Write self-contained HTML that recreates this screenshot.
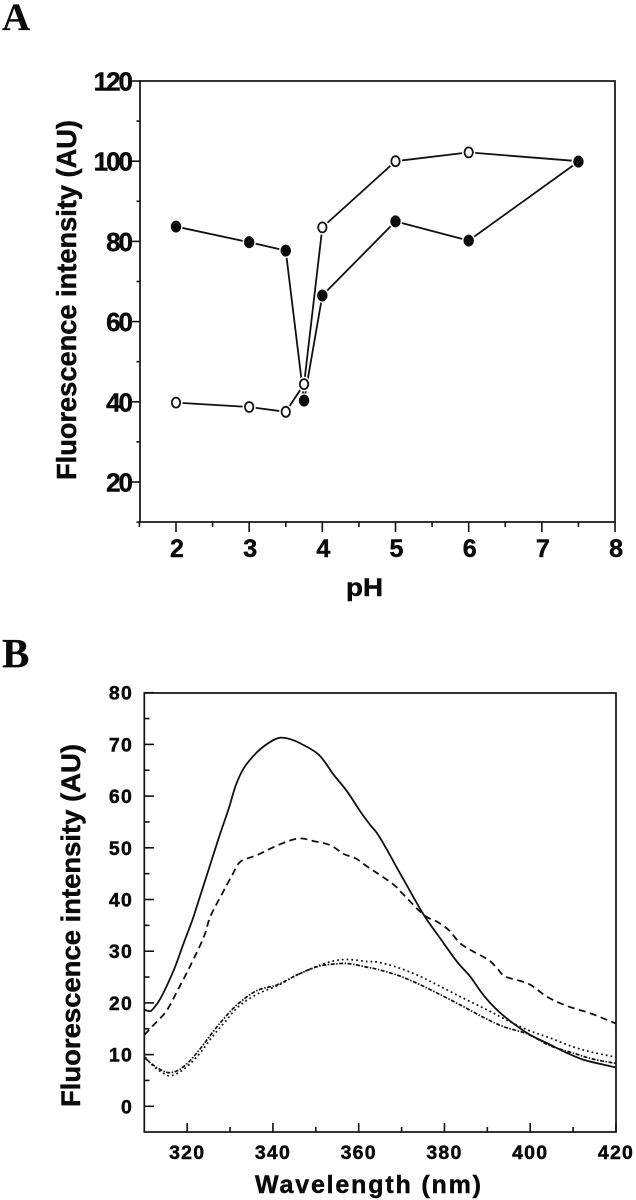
<!DOCTYPE html>
<html>
<head>
<meta charset="utf-8">
<title>Fluorescence intensity charts</title>
<style>
html,body{margin:0;padding:0;background:#fff;}
svg{display:block;}
text{font-family:"Liberation Sans",sans-serif;font-weight:bold;fill:#0a0a0a;stroke:#0a0a0a;stroke-width:0.45;}
text.serif{font-family:"Liberation Serif",serif;stroke-width:0.2;}
</style>
</head>
<body>
<svg id="fig" xmlns="http://www.w3.org/2000/svg" width="636" height="1200" viewBox="0 0 636 1200">
  <rect x="0" y="0" width="636" height="1200" fill="#fff"/>
  <text class="serif" x="2" y="30" font-size="39">A</text>
  <text class="serif" x="2" y="667" font-size="41">B</text>
  <rect x="140" y="81" width="475" height="441" fill="none" stroke="#111" stroke-width="1.7"/>
  <rect x="144.3" y="693" width="471.7" height="439" fill="none" stroke="#111" stroke-width="1.7"/>
  <g id="panelA"></g>
  <g id="panelB"></g>
  <text transform="translate(76,480) rotate(-90)" font-size="28" textLength="360" lengthAdjust="spacingAndGlyphs">Fluorescence intensity (AU)</text>
  <text x="346" y="596" font-size="25" textLength="37" lengthAdjust="spacingAndGlyphs">pH</text>
  <text transform="translate(80,1107) rotate(-90)" font-size="27" textLength="363" lengthAdjust="spacingAndGlyphs">Fluorescence intensity (AU)</text>
  <text x="255" y="1193" font-size="25" textLength="226" lengthAdjust="spacing">Wavelength (nm)</text>
</svg>
<script>
// Panel A data
var phValues = [2, 3, 3.5, 3.75, 4, 5, 6, 7.5];
var filledIntensity = [83.7, 79.8, 77.7, 40.3, 66.5, 85, 80.2, 99.9];
var openIntensity = [39.8, 38.7, 37.5, 44.4, 83.5, 100, 102.2, 100];
var phTickLabels = [2, 3, 4, 5, 6, 7, 8];
var phMinorTicks = [1.5, 2.5, 3.5, 4.5, 5.5, 6.5, 7.5];
var intensityTickLabelsA = [20, 40, 60, 80, 100, 120];
var intensityMinorTicksA = [10, 30, 50, 70, 90, 110];

// Panel B data
var solidWavelength = [310, 311.2, 312, 313.8, 316.9, 319.2, 321.2, 322.3, 324.7, 327.4, 329.7, 331.3, 333.2, 336.3, 339.4, 341.7, 344.1, 346.4, 350.7, 354.2, 357.3, 360.4, 362.7, 365, 370.5, 375.2, 379, 382.9, 386, 389.1, 392.3, 396.1, 400, 404.7, 408.6, 412.4, 416.3, 420];
var solidIntensity = [18.7, 18.4, 18.8, 20.9, 26.4, 31.6, 36, 38.8, 45, 52, 57.6, 62, 65.4, 68.5, 70.5, 71.3, 71, 70.2, 68, 64.1, 60.9, 57, 54.4, 51.9, 43.8, 37, 32.5, 28, 25.1, 21.5, 18.6, 16, 13.8, 11.9, 10.3, 9, 8.2, 7.5];
var dashedWavelength = [310, 312.6, 315.3, 318, 320.8, 323.9, 325.4, 328.2, 330.5, 332.4, 336.3, 341.7, 346, 349.5, 353.4, 356.5, 359.2, 362.3, 367.8, 370.5, 375.2, 378.3, 381, 383.7, 386.8, 390.3, 392.3, 394.2, 399.6, 403.9, 408.6, 414, 420];
var dashedIntensity = [13.8, 16.1, 18.6, 22.8, 27.3, 32.8, 36.7, 41.2, 44.7, 47.3, 48.6, 50.7, 51.8, 51.3, 50.5, 48.8, 48, 46.2, 43.1, 40.9, 37, 35.7, 34.1, 31.5, 29.9, 28.3, 26.7, 25.1, 23.7, 21.2, 19.4, 18, 16];
var lowWavelength = [310.2, 312.2, 314.2, 315.9, 318, 320.4, 323.1, 326.2, 328.9, 332, 336.3, 341, 345.6, 350.3, 354.1, 357.6, 362, 364.3, 368.9, 373.6, 378.3, 383.7, 389.1, 393.8, 399.3, 404.7, 410, 414.8, 420];
var dottedIntensity = [9.5, 7.7, 6.5, 5.9, 6.5, 8, 10.4, 13.8, 16.4, 19.3, 21.7, 23.3, 25.4, 27.1, 28.1, 28.4, 28, 27.9, 26.9, 25.4, 23.5, 21.2, 19, 17, 14.8, 13.2, 11.5, 10.4, 9.5];
var dashDotIntensity = [9.3, 7.9, 6.9, 6.5, 7, 8.6, 11.2, 14.6, 17.3, 19.9, 22.4, 23.5, 25.4, 27, 27.5, 27.6, 26.9, 26.5, 25.4, 23.8, 21.9, 19.6, 17.2, 15.4, 14, 11.7, 10.3, 9.1, 8.3];
var wavelengthTickLabels = [320, 340, 360, 380, 400, 420];
var wavelengthMinorTicks = [330, 350, 370, 390, 410];
var intensityTickLabelsB = [0, 10, 20, 30, 40, 50, 60, 70, 80];
var intensityMinorTicksB = [5, 15, 25, 35, 45, 55, 65, 75];

var NS = 'http://www.w3.org/2000/svg';
var panelA = document.getElementById('panelA');
var panelB = document.getElementById('panelB');

function xA(v) { return 176 + (v - 2) * 73.17; }
function yA(v) { return 482 - (v - 20) * 4.01; }
function xB(v) { return 144.3 + (v - 310) * 4.288; }
function yB(v) { return 1106.3 - v * 5.17; }

function make(parent, tag, props) {
  var el = document.createElementNS(NS, tag);
  for (var k in props) { el.setAttribute(k, props[k]); }
  parent.appendChild(el);
  return el;
}
function tick(parent, x1, y1, x2, y2, name) {
  var el = make(parent, 'line', { x1: x1, y1: y1, x2: x2, y2: y2, stroke: '#111', 'stroke-width': 1.6 });
  
  
}
function label(parent, x, y, str, size, spacing, anchor, name) {
  var el = make(parent, 'text', { x: x, y: y, 'font-size': size, 'letter-spacing': spacing, 'text-anchor': anchor });
  el.textContent = str;
  
  
}
// Straight segments between points (panel A)
function pathFrom(xs, ys, sx, sy) {
  var d = '';
  for (var i = 0; i < xs.length; i++) {
    d += (i ? 'L' : 'M') + sx(xs[i]).toFixed(2) + ' ' + sy(ys[i]).toFixed(2);
  }
  return d;
}
// Catmull-Rom smoothing through the points (panel B)
function smoothFrom(xs, ys, sx, sy) {
  var px = xs.map(sx);
  var py = ys.map(sy);
  var d = 'M' + px[0].toFixed(2) + ' ' + py[0].toFixed(2);
  for (var i = 0; i < px.length - 1; i++) {
    var a = Math.max(i - 1, 0);
    var b = Math.min(i + 2, px.length - 1);
    d += 'C' + (px[i] + (px[i + 1] - px[a]) / 6).toFixed(2) + ' ' + (py[i] + (py[i + 1] - py[a]) / 6).toFixed(2) +
         ' ' + (px[i + 1] - (px[b] - px[i]) / 6).toFixed(2) + ' ' + (py[i + 1] - (py[b] - py[i]) / 6).toFixed(2) +
         ' ' + px[i + 1].toFixed(2) + ' ' + py[i + 1].toFixed(2);
  }
  return d;
}
function curve(parent, d, width, dash, name) {
  var el = make(parent, 'path', { d: d, fill: 'none', stroke: '#111', 'stroke-width': width, 'stroke-linejoin': 'round' });
  if (dash) { el.setAttribute('stroke-dasharray', dash); }
  
  
}
function marker(parent, x, y, filled, name) {
  var halo = make(parent, 'ellipse', { cx: x, cy: y, rx: 6.6, ry: 7.4, fill: '#fff' });
  
  
  var el = make(parent, 'ellipse', { cx: x, cy: y, rx: filled ? 5 : 4.2, ry: filled ? 5.8 : 5, fill: filled ? '#0a0a0a' : '#fff', stroke: '#111', 'stroke-width': filled ? 0.5 : 1.8 });
  
  
}

// Panel A axes
intensityTickLabelsA.forEach(function (v) {
  tick(panelA, 132, yA(v), 140, yA(v), 'panel-a-y-tick');
  label(panelA, 131, yA(v) + 9.5, String(v), 26, -2, 'end', 'panel-a-y-tick-label');
});
intensityMinorTicksA.forEach(function (v) {
  tick(panelA, 136.5, yA(v), 140, yA(v), 'panel-a-y-minor-tick');
});
phTickLabels.forEach(function (v) {
  tick(panelA, xA(v), 522, xA(v), 532, 'panel-a-x-tick');
  label(panelA, xA(v) + 1, 557, String(v), 25, 0, 'middle', 'panel-a-x-tick-label');
});
phMinorTicks.forEach(function (v) {
  tick(panelA, xA(v), 522, xA(v), 527, 'panel-a-x-minor-tick');
});

// Panel A series
curve(panelA, pathFrom(phValues, openIntensity, xA, yA), 1.8, '', 'open-circle-line');
curve(panelA, pathFrom(phValues, filledIntensity, xA, yA), 1.8, '', 'filled-circle-line');
phValues.forEach(function (v, i) {
  marker(panelA, xA(v), yA(filledIntensity[i]), true, 'filled-point');
});
phValues.forEach(function (v, i) {
  marker(panelA, xA(v), yA(openIntensity[i]), false, 'open-point');
});
var lastIndex = phValues.length - 1;
marker(panelA, xA(phValues[lastIndex]), yA(filledIntensity[lastIndex]), true, 'filled-point-top');

// Panel B axes
intensityTickLabelsB.forEach(function (v) {
  tick(panelB, 144.3, yB(v), 154, yB(v), 'panel-b-y-tick');
  label(panelB, 133, yB(v) + 7, String(v), 19.5, 1.2, 'end', 'panel-b-y-tick-label');
});
intensityMinorTicksB.forEach(function (v) {
  tick(panelB, 144.3, yB(v), 149.5, yB(v), 'panel-b-y-minor-tick');
});
wavelengthTickLabels.forEach(function (v) {
  tick(panelB, xB(v), 1132, xB(v), 1123, 'panel-b-x-tick');
  label(panelB, xB(v), 1159, String(v), 19.5, 1.2, 'middle', 'panel-b-x-tick-label');
});
wavelengthMinorTicks.forEach(function (v) {
  tick(panelB, xB(v), 1132, xB(v), 1127, 'panel-b-x-minor-tick');
});

// Panel B series
curve(panelB, smoothFrom(solidWavelength, solidIntensity, xB, yB), 1.8, '', 'solid-curve');
curve(panelB, smoothFrom(dashedWavelength, dashedIntensity, xB, yB), 1.8, '7 4.5', 'dashed-curve');
curve(panelB, smoothFrom(lowWavelength, dottedIntensity, xB, yB), 1.7, '1.8 3', 'dotted-curve');
curve(panelB, smoothFrom(lowWavelength, dashDotIntensity, xB, yB), 1.7, '4 1.5 1.5 1.5', 'dash-dot-curve');
</script>
</body>
</html>
